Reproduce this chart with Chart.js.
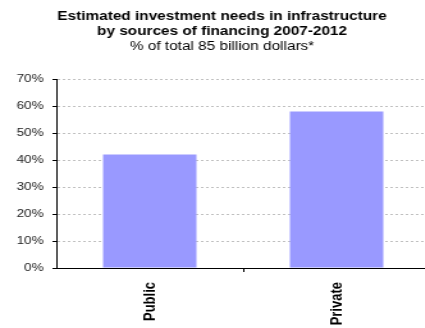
<!DOCTYPE html>
<html>
<head>
<meta charset="utf-8">
<script src="https://cdn.jsdelivr.net/npm/chart.js@4"></script>
<style>
    html, body { margin: 0; padding: 0; background: #fff; overflow: hidden; }
    /* canvas is drawn narrower and stretched wider; the plot runs past the right edge */
    #investChart { display: block; }
</style>
</head>
<body>
<canvas id="investChart" width="336" height="328" style="width:430px;height:328px"></canvas>
<script>
// Data for the chart
const categories = ['Public', 'Private'];
const shares = [42, 58];
const titleLines = ['Estimated investment needs in infrastructure', 'by sources of financing 2007-2012'];
const subtitleText = '% of total 85 billion dollars*';

const FONT = "'Liberation Sans', Arial, sans-serif";

document.addEventListener("DOMContentLoaded", () => {
    const ctx = document.getElementById('investChart').getContext('2d');

    new Chart(ctx, {
        type: 'bar',
        data: {
            labels: categories,
            datasets: [{
                data: shares,
                backgroundColor: '#9999ff',
                borderWidth: 0,
                categoryPercentage: 1,
                barPercentage: 0.5
            }]
        },
        options: {
            responsive: false,
            animation: false,
            devicePixelRatio: 1,
            layout: { padding: { left: 11, right: 0, top: 0, bottom: 0 } },
            plugins: {
                legend: { display: false },
                tooltip: { enabled: false },
                title: {
                    display: true,
                    text: titleLines,
                    color: '#000',
                    font: { family: FONT, size: 12, weight: 'bold', lineHeight: 15 / 12 },
                    padding: { top: 9, bottom: 0 }
                },
                subtitle: {
                    display: true,
                    text: subtitleText,
                    color: '#000',
                    font: { family: FONT, size: 12, weight: 'normal', lineHeight: 15 / 12 },
                    padding: { top: 0, bottom: 25 }
                }
            },
            scales: {
                x: {
                    afterFit: (scale) => {
                        scale.height = 60;
                        // let the plot reach the canvas edges
                        scale.paddingLeft = 0;
                        scale.paddingRight = 0;
                    },
                    grid: {
                        display: true,
                        drawOnChartArea: false,
                        drawTicks: true,
                        tickLength: 4,
                        tickColor: (c) => (c.index === 1 ? '#000' : 'rgba(0,0,0,0)')
                    },
                    border: { display: true, color: '#000', width: 1 },
                    ticks: {
                        color: '#000',
                        font: { family: FONT, size: 13, weight: 'bold' },
                        minRotation: 90,
                        maxRotation: 90,
                        padding: 10
                    }
                },
                y: {
                    min: 0,
                    max: 70,
                    afterFit: (scale) => { scale.width = 33; },
                    grid: {
                        color: '#c0c0c0',
                        lineWidth: 1,
                        tickLength: 3,
                        tickColor: '#000'
                    },
                    border: { display: true, color: '#000', width: 1, dash: [2, 2] },
                    ticks: {
                        stepSize: 10,
                        color: '#222',
                        padding: 7,
                        font: { family: FONT, size: 10.5 },
                        callback: (v) => v + '%'
                    }
                }
            }
        }
    });
});
</script>
</body>
</html>
